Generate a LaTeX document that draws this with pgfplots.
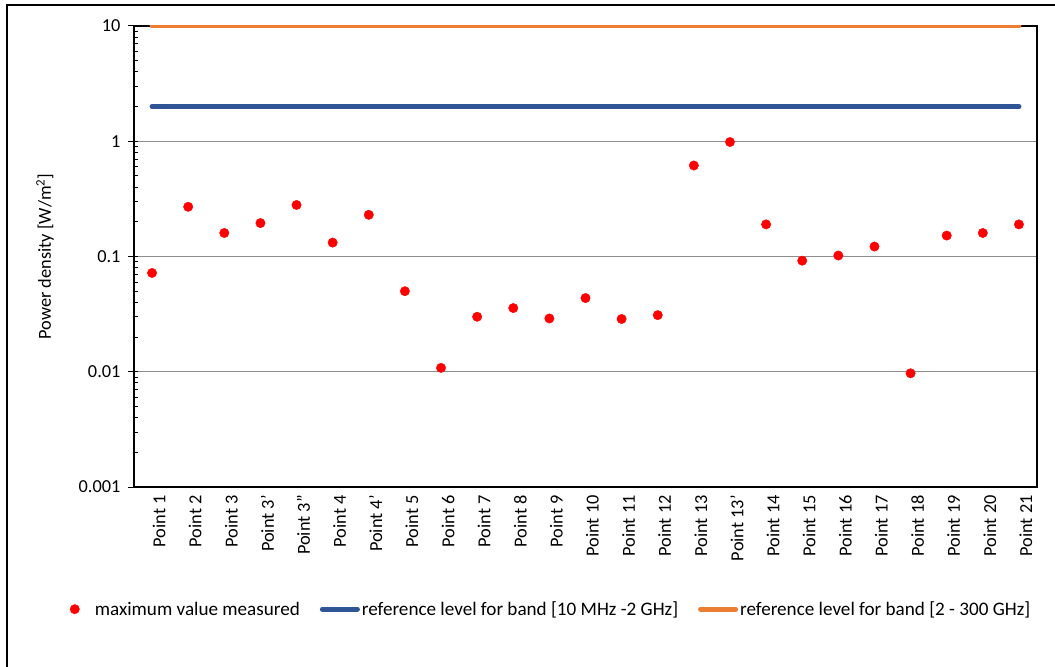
\documentclass[border=0pt]{standalone}
\usepackage{pgfplots}
\pgfplotsset{compat=1.18}
\usepackage{fontspec}
\setmainfont{Carlito}
\definecolor{refblue}{HTML}{2F5597}
\definecolor{reforange}{HTML}{ED7D31}
\definecolor{gridgray}{HTML}{8C8C8C}
\pgfplotsset{
  reflegend/.style={legend image code/.code={\draw[##1] (2.5bp,0bp) -- (37.5bp,0bp);}},
  marklegend/.style={legend image code/.code={\path[draw=none,fill=none] (-10bp,0bp) -- (18bp,0bp); \draw[mark repeat=2,mark phase=2,##1] plot coordinates {(-5bp,0bp) (0bp,0bp) (5bp,0bp)};}},
}
\pgfplotstableread{
x y
0 0.072
1 0.27
2 0.16
3 0.195
4 0.28
5 0.132
6 0.23
7 0.050
8 0.0108
9 0.030
10 0.0357
11 0.029
12 0.0436
13 0.0287
14 0.031
15 0.616
16 0.985
17 0.19
18 0.092
19 0.102
20 0.122
21 0.0097
22 0.152
23 0.16
24 0.19
}\measured
\begin{document}
\begin{tikzpicture}[font=\fontsize{18.4}{22}\selectfont]
\useasboundingbox (0,0) rectangle (1055bp,667bp);
\fill[white] (0,0) rectangle (1055bp,667bp);
\draw[line width=1.6bp] (7bp,-20bp) -- (7bp,662bp) -- (1080bp,662bp);
\begin{axis}[
  at={(134bp,180bp)}, anchor=south west,
  scale only axis, width=903bp, height=461bp,
  ymode=log, ymin=0.001, ymax=10,
  xmin=-0.5, xmax=24.5,
  xtick={0,...,24},
  xticklabels={Point 1,Point 2,Point 3,Point 3’,Point 3”,Point 4,Point 4’,Point 5,Point 6,Point 7,Point 8,Point 9,Point 10,Point 11,Point 12,Point 13,Point 13’,Point 14,Point 15,Point 16,Point 17,Point 18,Point 19,Point 20,Point 21},
  x tick label style={rotate=90, anchor=east, inner sep=2bp, yshift=-7bp},
  xtick style={draw=none},
  ytick={0.001,0.01,0.1,1,10},
  yticklabels={0.001,0.01,0.1,1,10},
  y tick label style={xshift=-4bp},
  ytick pos=left,
  tick align=outside,
  major tick length=6bp,
  minor tick length=-4bp,
  tick style={black, line width=1bp},
  ymajorgrids,
  major grid style={gridgray, line width=1.2bp},
  axis line style={black, line width=1.4bp},
  ylabel={Power density [W/m\textsuperscript{2}]},
  ylabel style={at={(axis description cs:-0.0985,0.5)}, anchor=center, rotate=0},
  legend columns=3,
  legend cell align=left,
  legend style={at={(axis description cs:0.459,-0.265)}, anchor=center, draw=none, fill=none,
    font=\fontsize{19.2}{22}\selectfont,
    /tikz/every even column/.append style={column sep=18bp}},
]
\addplot[only marks, mark=*, mark size=4.7bp, red, mark options={draw=red, fill=red}, marklegend]
  table[x=x, y=y] {\measured};
\addlegendentry{maximum value measured}
\addplot[refblue, line width=5bp, line cap=round, reflegend]
  coordinates {(0,2) (24,2)};
\addlegendentry{reference level for band [10 MHz -2 GHz]}
\addplot[reforange, line width=5bp, line cap=round, reflegend]
  coordinates {(0,10) (24,10)};
\addlegendentry{reference level for band [2 - 300 GHz]}
\end{axis}
\end{tikzpicture}
\end{document}
